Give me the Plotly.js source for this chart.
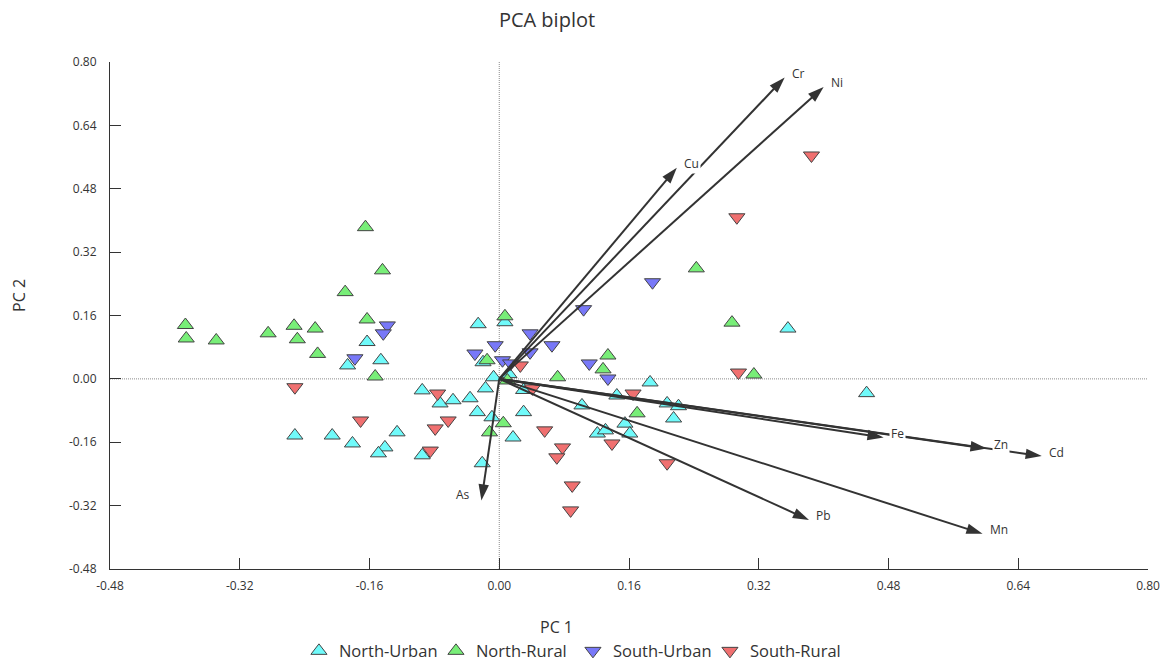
<!DOCTYPE html>
<html>
<head>
<meta charset="utf-8">
<script src="https://cdn.plot.ly/plotly-3.0.1.min.js"></script>
<style>html,body{margin:0;padding:0;background:#fff;}#chart{width:1173px;height:663px;}</style>
</head>
<body>
<div id="chart"></div>
<script>
// ---- Data ----
const groupNames = ['North-Urban', 'North-Rural', 'South-Urban', 'South-Rural'];

const northUrbanX = [-0.026, 0.007, 0.356, 0.453, -0.163, -0.146, -0.187, -0.020, -0.007, 0.012, -0.017, -0.073, -0.057, -0.036, -0.027, -0.009, 0.017, 0.030, 0.030, -0.021, 0.102, -0.095, -0.252, -0.206, -0.181, -0.126, -0.141, -0.149, -0.095, 0.186, 0.145, 0.207, 0.221, 0.215, 0.155, 0.161, 0.121, 0.131];
const northUrbanY = [0.138, 0.143, 0.127, -0.036, 0.093, 0.047, 0.034, 0.042, 0.004, 0.012, -0.024, -0.062, -0.054, -0.049, -0.084, -0.097, -0.148, -0.084, -0.028, -0.213, -0.067, -0.029, -0.143, -0.143, -0.163, -0.135, -0.173, -0.188, -0.193, -0.009, -0.042, -0.062, -0.069, -0.100, -0.113, -0.138, -0.138, -0.130];

const northRuralX = [-0.165, -0.144, -0.190, -0.387, -0.386, -0.349, -0.285, -0.253, -0.249, -0.227, -0.224, -0.163, -0.153, 0.007, -0.015, 0.010, 0.072, 0.005, -0.012, 0.134, 0.128, 0.170, 0.243, 0.287, 0.314];
const northRuralY = [0.383, 0.274, 0.219, 0.136, 0.102, 0.097, 0.115, 0.134, 0.100, 0.127, 0.063, 0.150, 0.006, 0.158, 0.047, -0.004, 0.004, -0.112, -0.135, 0.059, 0.024, -0.087, 0.279, 0.142, 0.011];

const southUrbanX = [0.189, 0.104, -0.138, -0.143, -0.178, 0.038, -0.005, -0.030, 0.004, 0.014, 0.038, 0.065, 0.111, 0.134];
const southUrbanY = [0.244, 0.176, 0.135, 0.115, 0.052, 0.115, 0.085, 0.064, 0.047, 0.039, 0.067, 0.085, 0.039, 0.001];

const southRuralX = [0.385, 0.293, 0.295, -0.252, -0.171, -0.076, -0.063, -0.079, -0.085, 0.026, 0.041, 0.056, 0.078, 0.071, 0.090, 0.088, 0.139, 0.165, 0.207];
const southRuralY = [0.564, 0.408, 0.016, -0.021, -0.105, -0.037, -0.105, -0.125, -0.181, 0.034, -0.024, -0.130, -0.173, -0.198, -0.269, -0.332, -0.163, -0.037, -0.213];

const variableNames = ['Cr', 'Ni', 'Cu', 'Fe', 'Zn', 'Cd', 'Pb', 'Mn', 'As'];
const loadingX = [0.352, 0.400, 0.219, 0.474, 0.601, 0.669, 0.382, 0.596, -0.022];
const loadingY = [0.761, 0.737, 0.533, -0.148, -0.176, -0.195, -0.356, -0.391, -0.307];

const tickVals = [-0.48, -0.32, -0.16, 0.00, 0.16, 0.32, 0.48, 0.64, 0.80];
const tickText = ['-0.48', '-0.32', '-0.16', '0.00', '0.16', '0.32', '0.48', '0.64', '0.80'];

// ---- Styling ----
const FONT = 'Open Sans, Noto Sans, sans-serif';
const TXT = '#333333';
const groupColors = ['#70FAFA', '#78EE78', '#7878F8', '#F07070'];
const groupSymbols = ['triangle-up', 'triangle-up', 'triangle-down', 'triangle-down'];
const groupX = [northUrbanX, northRuralX, southUrbanX, southRuralX];
const groupY = [northUrbanY, northRuralY, southUrbanY, southRuralY];

const traces = [];
for (let g = 0; g < groupNames.length; g++) {
  traces.push({
    type: 'scatter', mode: 'markers', name: groupNames[g],
    x: groupX[g], y: groupY[g],
    marker: { symbol: groupSymbols[g], size: 14, color: groupColors[g], line: { color: '#444444', width: 1 } },
    hoverinfo: 'x+y+name'
  });
}
const ARROW = '#333333';
for (let i = 0; i < variableNames.length; i++) {
  traces.push({
    type: 'scatter', mode: 'lines+markers', showlegend: false,
    x: [0, loadingX[i]], y: [0, loadingY[i]],
    line: { color: ARROW, width: 2 },
    marker: { symbol: 'arrow', angleref: 'previous', size: [0, 17], color: ARROW, opacity: 1, line: { width: 0 } },
    hoverinfo: 'skip'
  });
}

const annotations = variableNames.map((v, i) => ({
  x: loadingX[i], y: loadingY[i], xref: 'x', yref: 'y',
  text: v, showarrow: false,
  xanchor: v === 'As' ? 'right' : 'left', yanchor: 'middle',
  xshift: v === 'As' ? -9 : 5, yshift: v === 'As' ? 6 : 4,
  bgcolor: '#ffffff', borderpad: 1,
  font: { family: FONT, size: 12, color: TXT }
}));
annotations.push({
  xref: 'paper', yref: 'paper', x: 0.43, y: -0.114, text: 'PC 1', showarrow: false,
  xanchor: 'center', yanchor: 'middle', font: { family: FONT, size: 16, color: TXT }
});
annotations.push({
  xref: 'paper', yref: 'paper', x: -0.087, y: 0.54, text: 'PC 2', showarrow: false, textangle: -90,
  xanchor: 'center', yanchor: 'middle', font: { family: FONT, size: 16, color: TXT }
});

const axisCommon = {
  range: [-0.48, 0.80], tickvals: tickVals, ticktext: tickText,
  showgrid: false, zeroline: false, showline: true, linecolor: '#333333', linewidth: 1,
  ticks: 'inside', ticklen: 11, tickcolor: '#333333', tickwidth: 1,
  tickfont: { family: FONT, size: 12, color: TXT }, fixedrange: true
};

const layout = {
  width: 1173, height: 663,
  margin: { l: 110, r: 25, t: 62, b: 94, autoexpand: false },
  paper_bgcolor: '#ffffff', plot_bgcolor: '#ffffff',
  title: { text: 'PCA biplot', x: 547 / 1173, xref: 'container', xanchor: 'center', y: 1 - 20 / 663, yref: 'container', yanchor: 'middle', font: { family: FONT, size: 20, color: TXT } },
  xaxis: Object.assign({}, axisCommon, { ticklabelstandoff: 6 }),
  yaxis: Object.assign({}, axisCommon, { ticklabelstandoff: 10 }),
  showlegend: true,
  legend: { orientation: 'h', x: 0.446, xanchor: 'center', y: -0.162, yanchor: 'middle', entrywidth: 92, entrywidthmode: 'pixels', font: { family: FONT, size: 16.5, color: TXT }, bgcolor: 'rgba(0,0,0,0)' },
  shapes: [
    { type: 'line', xref: 'paper', yref: 'y', x0: 0, x1: 1, y0: 0, y1: 0, line: { color: '#8a8a8a', width: 1, dash: '1px,1px' }, layer: 'below' },
    { type: 'line', xref: 'x', yref: 'paper', x0: 0, x1: 0, y0: 0, y1: 1, line: { color: '#8a8a8a', width: 1, dash: '1px,1px' }, layer: 'below' }
  ],
  annotations: annotations
};

Plotly.newPlot('chart', traces, layout, { displayModeBar: false, staticPlot: true });
</script>
</body>
</html>
